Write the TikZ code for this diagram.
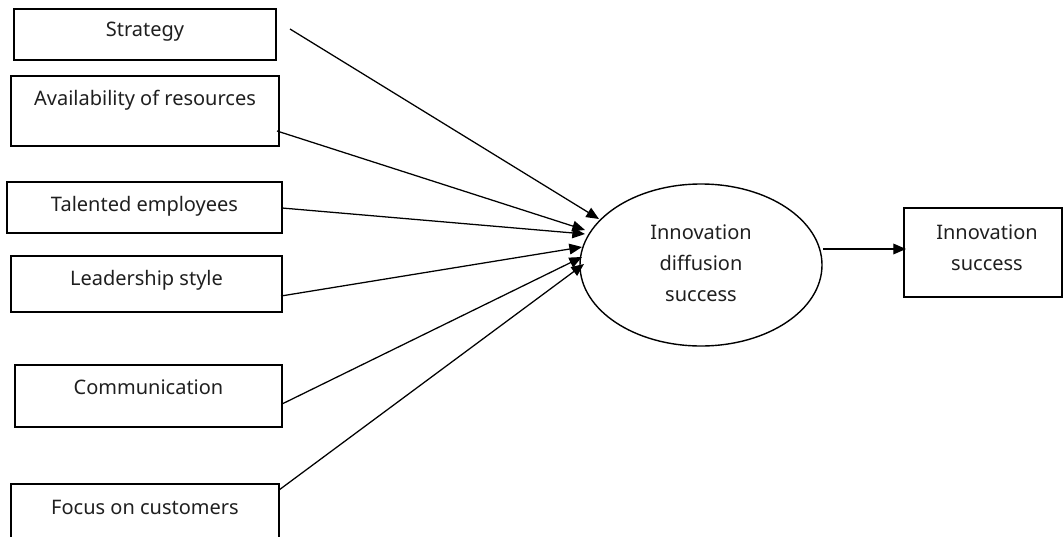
\documentclass[tikz,border=0pt]{standalone}
\usepackage{fontspec}
\setmainfont{Noto Sans}
\usetikzlibrary{shapes.geometric,arrows.meta}
\begin{document}
\begin{tikzpicture}[x=0.75pt,y=-0.75pt,
  box/.style={draw, line width=1.05pt, rectangle, inner sep=0pt},
  lbl/.style={font=\fontsize{15}{23.25}\selectfont, text=black!88, align=center, inner sep=0pt},
  conn/.style={line width=0.95pt, -{Triangle[length=9.5pt,width=8pt]}}]
\useasboundingbox (0,0) rectangle (1064,536);
% input boxes
\node[box, minimum width=196.5pt, minimum height=38.25pt] (strat) at (145,34.5) {};
\node[lbl] (stratT) at (145,32) {Strategy};
\node[box, minimum width=201pt, minimum height=52.5pt] (avail) at (145,111) {};
\node[lbl] (availT) at (145,100) {Availability of resources};
\node[box, minimum width=206.25pt, minimum height=38.25pt] (talent) at (144.5,207.5) {};
\node[lbl] (talentT) at (144.5,206) {Talented employees};
\node[box, minimum width=203.25pt, minimum height=42pt] (lead) at (146.5,284) {};
\node[lbl] (leadT) at (146.5,280) {Leadership style};
\node[box, minimum width=200.25pt, minimum height=46.5pt] (comm) at (148.5,396) {};
\node[lbl] (commT) at (148.5,387) {Communication};
\node[box, minimum width=201pt, minimum height=45.75pt] (focus) at (145,514.5) {};
\node[lbl] (focusT) at (145,507) {Focus on customers};
% central ellipse
\node[draw, line width=1.05pt, ellipse, minimum width=181.5pt, minimum height=121.5pt, inner sep=0pt] (diff) at (701,265) {};
\node[lbl] (diffT) at (701,263) {Innovation\\diffusion\\success};
% outcome box
\node[box, minimum width=118.5pt, minimum height=66.75pt] (succ) at (983,252.5) {};
\node[lbl] (succT) at (987,248) {Innovation\\success};
% connector end points
\coordinate (s1) at (290,29);   \coordinate (e1) at (599,219);
\coordinate (s2) at (277,131);  \coordinate (e2) at (585,230);
\coordinate (s3) at (282,208);  \coordinate (e3) at (585,234);
\coordinate (s4) at (281,296);  \coordinate (e4) at (582,247);
\coordinate (s5) at (282,404);  \coordinate (e5) at (582,257);
\coordinate (s6) at (279,490);  \coordinate (e6) at (584,264);
\coordinate (s7) at (823,249);  \coordinate (e7) at (906,249);
\draw[conn] (s1) -- (e1);
\draw[conn] (s2) -- (e2);
\draw[conn] (s3) -- (e3);
\draw[conn] (s4) -- (e4);
\draw[conn] (s5) -- (e5);
\draw[conn] (s6) -- (e6);
\draw[conn] (s7) -- (e7);
\end{tikzpicture}
\end{document}
